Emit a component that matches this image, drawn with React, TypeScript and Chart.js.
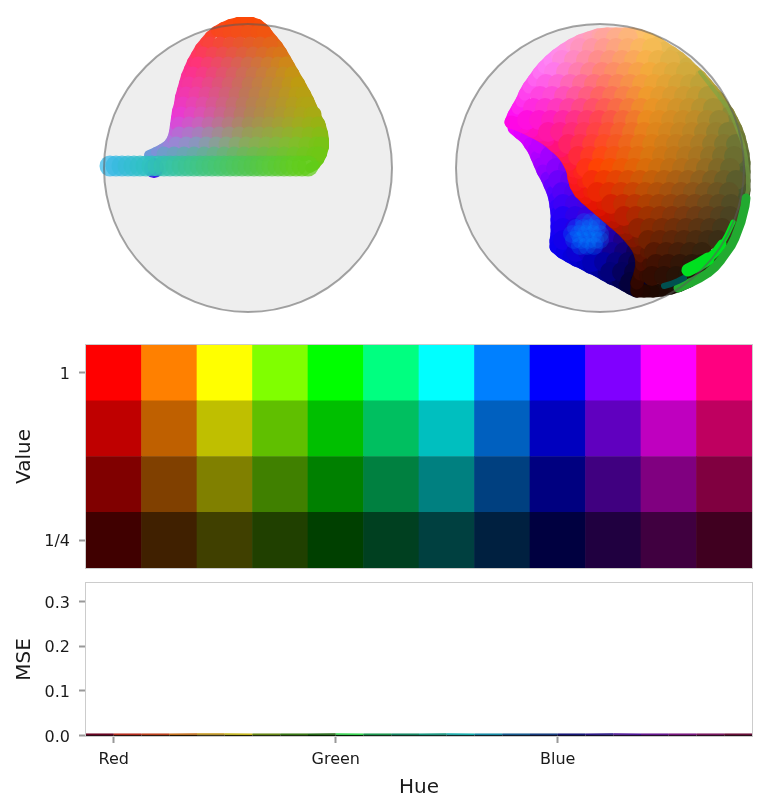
import { useEffect, useRef } from 'react';
import { Chart, registerables } from 'chart.js';

Chart.register(...registerables);

// --- sphere projections, offsets from the sphere centre (radius 144) ---
const sphereRadius = 144;

const leftRowY = [-136, -124, -114, -104, -94, -84, -74, -64, -54, -44, -34, -24, -14];
const leftRowX = [
  [-26, -18, -10, 0, 10, 16],
  [-38, -28, -18, -8, 2, 12, 22],
  [-45, -35, -25, -15, -5, 5, 15, 25, 32],
  [-50, -40, -30, -20, -10, 0, 10, 20, 30, 38],
  [-55, -45, -35, -25, -15, -5, 5, 15, 25, 35, 44],
  [-59, -49, -39, -29, -19, -9, 1, 11, 21, 31, 41, 50],
  [-62, -52, -42, -32, -22, -12, -2, 8, 18, 28, 38, 48, 55],
  [-65, -55, -45, -35, -25, -15, -5, 5, 15, 25, 35, 45, 55, 60],
  [-67, -57, -47, -37, -27, -17, -7, 3, 13, 23, 33, 43, 53, 63, 66],
  [-69, -59, -49, -39, -29, -19, -9, 1, 11, 21, 31, 41, 51, 61, 70],
  [-69, -59, -49, -39, -29, -19, -9, 1, 11, 21, 31, 41, 51, 61, 71],
  [-72, -62, -52, -42, -32, -22, -12, -2, 8, 18, 28, 38, 48, 58, 68, 73],
  [-84, -74, -64, -54, -44, -34, -24, -14, -4, 6, 16, 26, 36, 46, 56, 66, 71],
];
const leftEdgeX = [
  -99, -92, -86, -80, -76, -74, -73, -72, -71, -69, -68, -66, -64, -62, -59, -56, -52, -48, -43, -38, -32, -25, -18, -10,
  -3, 4, 10, 15, 20, 25, 30, 34, 38, 42, 46, 50, 54, 58, 61, 64, 67, 70, 73, 75, 76, 76, 74, 71, 67, 62,
];
const leftEdgeY = [
  -13, -16, -19, -23, -29, -36, -43, -50, -57, -64, -71, -78, -85, -92, -99, -106, -113, -120, -126, -132, -137, -141, -144, -146,
  -146, -146, -144, -140, -134, -128, -122, -116, -109, -102, -95, -88, -81, -74, -68, -61, -55, -48, -42, -35, -28, -21, -14, -8, -3, 0,
];
const leftBandRowY = [-2];
const leftBandRowX = [[
  -138, -132, -126, -120, -114, -108, -102, -96, -90, -84, -78, -72, -66, -60, -54, -48, -42, -36, -30, -24,
  -18, -12, -6, 0, 6, 12, 18, 24, 30, 36, 42, 48, 54, 60,
]];
const leftHiddenRowY = [0];
const leftHiddenRowX = [[-94]];

const mainRowY = [-130, -120, -108, -96, -84, -72, -60, -48, -36, -24, -12, 0, 12, 24, 36, 48, 60, 72, 84, 96, 108];
const mainRowX = [
  [4, 16, 28],
  [-20, -8, 4, 16, 28, 40, 52],
  [-38, -26, -14, -2, 10, 22, 34, 46, 58, 70],
  [-46, -34, -22, -10, 2, 14, 26, 38, 50, 62, 74, 86],
  [-54, -42, -30, -18, -6, 6, 18, 30, 42, 54, 66, 78, 90, 100],
  [-60, -48, -36, -24, -12, 0, 12, 24, 36, 48, 60, 72, 84, 96, 108],
  [-67, -55, -43, -31, -19, -7, 5, 17, 29, 41, 53, 65, 77, 89, 101, 113],
  [-73, -61, -49, -37, -25, -13, -1, 11, 23, 35, 47, 59, 71, 83, 95, 107, 119],
  [-52, -40, -28, -16, -4, 8, 20, 32, 44, 56, 68, 80, 92, 104, 116, 128],
  [-32, -20, -8, 4, 16, 28, 40, 52, 64, 76, 88, 100, 112, 124, 136],
  [-22, -10, 2, 14, 26, 38, 50, 62, 74, 86, 98, 110, 122, 134],
  [-14, -2, 10, 22, 34, 46, 58, 70, 82, 94, 106, 118, 130],
  [-8, 4, 16, 28, 40, 52, 64, 76, 88, 100, 112, 124, 136],
  [-3, 9, 21, 33, 45, 57, 69, 81, 93, 105, 117, 129],
  [11, 23, 35, 47, 59, 71, 83, 95, 107, 119, 131],
  [24, 36, 48, 60, 72, 84, 96, 108, 120, 130],
  [38, 50, 62, 74, 86, 98, 110, 122],
  [48, 60, 72, 84, 96, 108, 118],
  [54, 66, 78, 90, 102],
  [56, 68, 80, 92, 102],
  [52, 64, 76, 88],
];
const mainFillX = [-11, 2, 15, 28, 40, 46, 48, 45, -17, -21];
const mainFillY = [24, 36, 48, 60, 72, 84, 96, 108, 14, 5];
const mainEdgeX = [
  -89, -86, -82, -78, -75, -71, -66, -61, -56, -50, -43, -36, -28, -20, -11, -2, 7, 16, 25, 33,
  41, 49, 57, 64, 72, 79, 86, 93, 100, 106, 112, 118, 123, 128, 132, 136, 139, 141, 143, 144, 144, 144, 144, 143, 141, 138, 135, 130, 126, 121, 116, 110, 104, 97, 89, 80, 71, 62, 53, 44, 37,
  37, 40, 42, 41, 38, 33, 27, 21, 14, 7, 0, -7, -14, -20, -24, -26, -27, -30, -34, -39, -45, -52, -60, -68, -76, -83, -89,
];
const mainEdgeY = [
  -46, -53, -60, -67, -74, -81, -88, -95, -101, -107, -113, -118, -123, -127, -130, -133, -134, -134, -134, -134,
  -132, -129, -125, -120, -115, -110, -104, -97, -91, -84, -77, -70, -62, -55, -47, -39, -31, -23, -14, -5, 4, 13, 22, 31, 40, 48, 57, 65, 73, 81, 89, 96, 102, 108, 113, 117, 120, 122, 123, 123, 123,
  115, 106, 97, 88, 80, 73, 66, 60, 54, 48, 42, 36, 30, 24, 17, 10, 3, -4, -11, -17, -22, -28, -33, -37, -41, -44, -46,
];

const backRowY = [-24, -12, 0, 12, 24, 36, 48, 60, 72, 84, 94, 104, 114];
const backRowX = [
  [-59, -47, -35],
  [-50, -38, -26],
  [-44, -32, -20],
  [-42, -30, -18, -6],
  [-38, -26, -14, -2],
  [-37, -25, -13, -1, 8, 17],
  [-37, -25, -13, -1, 11, 18, 28],
  [-37, -25, -13, -1, 11, 23, 30, 40],
  [-37, -25, -13, -1, 11, 23, 33, 43],
  [-24, -12, 0, 12, 24, 36, 46],
  [-8, 4, 16, 28, 38],
  [10, 22, 34],
  [30, 40],
];
const backEdgeX = [
  -86, -80, -74, -70, -66, -63, -60, -57, -53, -50, -47, -45, -44, -43, -43, -43, -43, -44, -44,
  -38, -31, -24, -17, -10, -3, 4, 11, 18, 25, 30, 36,
];
const backEdgeY = [
  -40, -35, -30, -24, -18, -11, -4, 3, 10, 17, 24, 31, 38, 45, 52, 59, 66, 73, 79,
  84, 88, 92, 95, 99, 102, 106, 110, 113, 117, 120, 123,
];

const patchRowY = [54, 60, 66, 72, 78];
const patchRowX = [
  [-16, -9, -2],
  [-24, -17, -10, -3],
  [-28, -21, -14, -7, 0],
  [-26, -19, -12, -5, 0],
  [-20, -13, -6],
];

const brightWideX = [88, 98, 108];
const brightWideY = [102, 97, 91];
const brightMidX = [108, 116, 122];
const brightMidY = [91, 84, 76];
const brightThinX = [122, 127, 133];
const brightThinY = [76, 67, 54];
const deepRimX = [146, 145, 143, 141, 138, 135, 131, 126, 121, 115, 108, 100, 92, 85, 78];
const deepRimY = [30, 38, 46, 54, 62, 70, 78, 85, 92, 99, 105, 110, 114, 117, 120];
const paleRimX = [100, 107, 114, 121, 128, 133, 137, 141, 144, 146, 147, 148, 148, 148, 147];
const paleRimY = [-96, -87, -78, -69, -60, -50, -40, -30, -20, -10, -2, 6, 14, 22, 26];
const tealX = [64, 71, 78, 84];
const tealY = [118, 116, 113, 110];

// --- hue / value grid ---
const hueNames = ['Red', 'Orange', 'Yellow', 'Lime', 'Green', 'Spring', 'Cyan', 'Azure', 'Blue', 'Violet', 'Magenta', 'Rose'];
const valueLevels = [1, 0.75, 0.5, 0.25];
const cellHeights = [1, 1, 1, 1, 1, 1, 1, 1, 1, 1, 1, 1];
const valueTickAt = [0.5, 3.5];
const valueTickLabels = ['1/4', '1'];

// --- reconstruction error ---
const mseHue = [-15, 0, 15, 30, 45, 60, 75, 90, 105, 120, 135, 150, 165, 180, 195, 210, 225, 240, 255, 270, 285, 300, 315, 330, 345];
const mseUpper = [0.003, 0.003, 0.003, 0.003, 0.0035, 0.0035, 0.003, 0.003, 0.003, 0.0035, 0.003, 0.003, 0.003, 0.0035, 0.003, 0.003, 0.003, 0.003, 0.003, 0.0035, 0.003, 0.003, 0.003, 0.003, 0.003];
const mseLower = [0.0008, 0.0008, 0.0008, 0.0008, 0.0009, 0.0009, 0.0008, 0.0008, 0.0008, 0.0009, 0.0008, 0.0008, 0.0008, 0.0008, 0.0008, 0.0008, 0.0008, 0.0008, 0.0008, 0.0008, 0.0008, 0.0008, 0.0008, 0.0008, 0.0008];
const hueTickAt = [0, 120, 240];
const hueTickLabels = ['Red', 'Green', 'Blue'];
const mseTickAt = [0, 0.1, 0.2, 0.3];

// colours
type RGB = number[];
const hueColors: RGB[] = [
  [255, 0, 0], [255, 128, 0], [255, 255, 0], [128, 255, 0], [0, 255, 0], [0, 255, 128],
  [0, 255, 255], [0, 128, 255], [0, 0, 255], [128, 0, 255], [255, 0, 255], [255, 0, 128],
];
const mseUpperColors = [
  '#6a0020', '#b82a1c', '#c0401c', '#c8701c', '#c89a1c', '#c8b81c', '#6a8a14', '#3a7a14', '#246a14', '#36d850',
  '#1c9a50', '#148a64', '#149a82', '#14b0b0', '#148ca8', '#145a90', '#143c80', '#141478', '#2a1488', '#50149a',
  '#681490', '#7a1480', '#7a1460', '#6a0c38',
];
const mseLowerColors = [
  '#20000c', '#200800', '#200c00', '#201400', '#201a00', '#201e00', '#141e00', '#0c1e00', '#041e00', '#001e04',
  '#001e0c', '#001e14', '#001e18', '#001c1c', '#00141c', '#000c1c', '#00041c', '#00001c', '#04001c', '#0c001c',
  '#14001c', '#1c001c', '#1c0014', '#1c000c',
];

const leftShadeRows = [-150, -100, -50, -25, 0];
const leftShadeCols = [-150, -100, -50, 0, 50, 100];
const leftShade: RGB[][] = [
  [[255, 70, 0], [255, 70, 0], [255, 70, 0], [255, 70, 0], [255, 70, 0], [255, 70, 0]],
  [[255, 30, 170], [255, 30, 170], [255, 50, 130], [205, 110, 80], [200, 150, 10], [200, 150, 10]],
  [[255, 20, 255], [255, 20, 255], [220, 80, 190], [175, 130, 90], [170, 165, 30], [150, 185, 0]],
  [[200, 90, 240], [180, 110, 245], [140, 150, 190], [140, 170, 90], [130, 190, 40], [110, 200, 0]],
  [[50, 190, 245], [35, 200, 190], [55, 200, 130], [75, 200, 80], [95, 205, 30], [100, 205, 0]],
];

const mainShadeRows = [-144, -96, -48, 0, 48, 96, 144];
const mainShadeCols = [-96, -48, 0, 48, 96, 144];
const mainShade: RGB[][] = [
  [[255, 170, 255], [255, 170, 255], [255, 175, 180], [255, 205, 110], [190, 190, 90], [150, 180, 80]],
  [[255, 100, 255], [255, 120, 240], [255, 130, 120], [245, 170, 60], [200, 170, 60], [130, 170, 70]],
  [[255, 0, 255], [255, 30, 190], [255, 70, 80], [235, 140, 30], [190, 140, 40], [110, 130, 60]],
  [[255, 0, 150], [255, 0, 80], [255, 70, 0], [215, 110, 10], [165, 110, 30], [85, 100, 50]],
  [[255, 0, 0], [255, 0, 0], [215, 10, 0], [160, 50, 0], [110, 60, 20], [60, 70, 40]],
  [[120, 0, 0], [120, 0, 0], [120, 0, 0], [70, 15, 0], [40, 25, 10], [20, 30, 20]],
  [[0, 0, 0], [0, 0, 0], [0, 0, 0], [0, 0, 0], [0, 20, 15], [0, 20, 15]],
];

const backShadeRows = [-48, 0, 48, 96, 144];
const backShadeCols = [-96, -48, 0, 48];
const backShade: RGB[][] = [
  [[255, 0, 255], [220, 0, 255], [220, 0, 255], [220, 0, 255]],
  [[200, 0, 255], [140, 0, 255], [90, 0, 230], [90, 0, 230]],
  [[40, 0, 255], [30, 0, 255], [65, 0, 210], [40, 0, 120]],
  [[0, 0, 255], [0, 0, 240], [0, 0, 170], [10, 0, 40]],
  [[0, 0, 100], [0, 0, 60], [0, 0, 30], [0, 0, 0]],
];

type Pt = { x: number; y: number };

const toPoints = (rowY: number[], rowX: number[][]) =>
  rowY.flatMap((y, i) => rowX[i].map(x => ({ x, y })));
const zipPoints = (xs: number[], ys: number[]) => xs.map((x, i) => ({ x, y: ys[i] }));

function bracket(stops: number[], v: number): [number, number, number] {
  let i = 0;
  while (i < stops.length - 2 && v > stops[i + 1]) i++;
  const t = Math.min(1, Math.max(0, (v - stops[i]) / (stops[i + 1] - stops[i])));
  return [i, i + 1, t];
}

// colour of a dot, looked up from a coarse table of colours
function shadeAt(table: RGB[][], rows: number[], cols: number[], x: number, y: number, alpha: number) {
  const [r0, r1, v] = bracket(rows, y);
  const [c0, c1, u] = bracket(cols, x);
  const rgb = [0, 1, 2].map(k => {
    const top = table[r0][c0][k] * (1 - u) + table[r0][c1][k] * u;
    const bot = table[r1][c0][k] * (1 - u) + table[r1][c1][k] * u;
    return Math.round(top * (1 - v) + bot * v);
  });
  return `rgba(${rgb[0]}, ${rgb[1]}, ${rgb[2]}, ${alpha})`;
}

function dots(points: Pt[], color: any, radius: number) {
  return { data: points, backgroundColor: color, pointRadius: radius, pointBorderWidth: 0 };
}

// thick round-capped path along a sheet's border, for a smooth silhouette
function edge(points: Pt[], colorOf: (p: Pt) => string, width: number) {
  return {
    data: points,
    showLine: true,
    pointRadius: 0,
    borderWidth: width,
    borderColor: colorOf(points[0]),
    borderCapStyle: 'round',
    borderJoinStyle: 'round',
    segment: { borderColor: (c: any) => colorOf(points[c.p0DataIndex]) },
  };
}

const ringDataset = () => ({
  data: [{ x: 0, y: 0 }],
  backgroundColor: 'rgba(0, 0, 0, 0)',
  borderColor: 'rgba(90, 90, 90, 0.55)',
  pointRadius: sphereRadius,
  pointBorderWidth: 2,
});
const discDataset = () => dots([{ x: 0, y: 0 }], '#eeeeee', sphereRadius);

function leftDatasets() {
  const shade = (p: Pt, a: number) => shadeAt(leftShade, leftShadeRows, leftShadeCols, p.x, p.y, a);
  const upper = toPoints(leftRowY, leftRowX);
  const band = toPoints(leftBandRowY, leftBandRowX);
  return [
    ringDataset(),
    dots(band, band.map(p => shade(p, 0.75)), 10.5),
    dots(upper, upper.map(p => shade(p, 1)), 7.5),
    edge(zipPoints(leftEdgeX, leftEdgeY), p => shade(p, 1), 10),
    dots(toPoints(leftHiddenRowY, leftHiddenRowX), '#3c00f0', 10),
    discDataset(),
  ];
}

function rightDatasets() {
  const mainOf = (p: Pt) => shadeAt(mainShade, mainShadeRows, mainShadeCols, p.x, p.y, 1);
  const backOf = (p: Pt) => shadeAt(backShade, backShadeRows, backShadeCols, p.x, p.y, 1);
  const main = toPoints(mainRowY, mainRowX);
  const fill = zipPoints(mainFillX, mainFillY);
  const back = toPoints(backRowY, backRowX);
  return [
    ringDataset(),
    edge(zipPoints(brightThinX, brightThinY), () => '#00e020', 5),
    edge(zipPoints(brightMidX, brightMidY), () => '#00e020', 9),
    edge(zipPoints(brightWideX, brightWideY), () => '#00e020', 13),
    edge(zipPoints(tealX, tealY), () => '#005050', 6),
    edge(zipPoints(deepRimX, deepRimY), () => '#22aa30', 9),
    edge(zipPoints(paleRimX, paleRimY), () => 'rgba(120, 170, 70, 0.55)', 4),
    dots(main, main.map(mainOf), 10),
    dots(fill, fill.map(mainOf), 6),
    edge(zipPoints(mainEdgeX, mainEdgeY), mainOf, 13),
    dots(toPoints(patchRowY, patchRowX), 'rgba(0, 130, 255, 0.22)', 9),
    dots(back, back.map(backOf), 10),
    edge(zipPoints(backEdgeX, backEdgeY), backOf, 13),
    discDataset(),
  ];
}

const framePlugin = {
  id: 'frame',
  afterDraw(chart: any) {
    const { ctx, chartArea: a } = chart;
    ctx.save();
    ctx.strokeStyle = '#cccccc';
    ctx.lineWidth = 1;
    ctx.strokeRect(a.left - 0.5, a.top - 0.5, a.right - a.left + 1, a.bottom - a.top + 1);
    ctx.restore();
  },
};

const textColor = '#1a1a1a';
const fontFamily = "'DejaVu Sans'";
const tickFont = { family: fontFamily, size: 16 };
const titleFont = { family: fontFamily, size: 20 };
const tickGrid = { drawOnChartArea: false, drawTicks: true, tickLength: 7, tickWidth: 2, tickColor: '#999999' };

// the gutter left of every plot is fixed so both panels line up
const fitGutter = (s: any) => {
  s.width = 86;
  s.paddingTop = 0;
  s.paddingBottom = 0;
};

function SphereCanvas({ left, datasets }: { left: number; datasets: () => any[] }) {
  const ref = useRef<HTMLCanvasElement>(null);
  useEffect(() => {
    if (!ref.current) return;
    const chart = new Chart(ref.current, {
      type: 'scatter',
      data: { datasets: datasets() },
      options: {
        responsive: false,
        animation: false,
        layout: { padding: 0, autoPadding: false },
        plugins: { legend: { display: false }, tooltip: { enabled: false } },
        scales: {
          x: { type: 'linear', display: false, min: -160, max: 160 },
          y: { type: 'linear', display: false, min: -160, max: 160, reverse: true },
        },
      },
    } as any);
    return () => chart.destroy();
  }, []);
  return <canvas ref={ref} width={320} height={320} style={{ position: 'absolute', left, top: 8 }} />;
}

function HeatCanvas() {
  const ref = useRef<HTMLCanvasElement>(null);
  useEffect(() => {
    if (!ref.current) return;
    // bottom band first so that the stack reads from value 1/4 up to value 1
    const datasets = [...valueLevels].reverse().map(level => ({
      label: String(level),
      data: cellHeights,
      backgroundColor: hueColors.map(c => `rgb(${c.map(v => Math.round(v * level)).join(', ')})`),
      borderWidth: 0,
      barPercentage: 1,
      categoryPercentage: 1,
    }));
    const chart = new Chart(ref.current, {
      type: 'bar',
      data: { labels: hueNames, datasets },
      options: {
        responsive: false,
        animation: false,
        layout: { padding: { top: 10, right: 15, bottom: 10, left: 0 }, autoPadding: false },
        plugins: { legend: { display: false }, tooltip: { enabled: false } },
        scales: {
          x: { stacked: true, display: false },
          y: {
            stacked: true,
            min: 0,
            max: 4,
            afterFit: fitGutter,
            afterBuildTicks: (s: any) => { s.ticks = valueTickAt.map(value => ({ value })); },
            ticks: {
              color: textColor,
              font: tickFont,
              padding: 9,
              labelOffset: 2,
              callback: (v: any) => valueTickLabels[valueTickAt.indexOf(v)],
            },
            grid: tickGrid,
            border: { display: false },
            title: { display: true, text: 'Value', color: textColor, font: titleFont, padding: { top: 13, bottom: 0 } },
          },
        },
      },
      plugins: [framePlugin],
    } as any);
    return () => chart.destroy();
  }, []);
  return <canvas ref={ref} width={767} height={243} style={{ position: 'absolute', left: 0, top: 335 }} />;
}

function MseCanvas() {
  const ref = useRef<HTMLCanvasElement>(null);
  useEffect(() => {
    if (!ref.current) return;
    const line = (values: number[], colors: string[]) => ({
      data: mseHue.map((x, i) => ({ x, y: values[i] })),
      borderWidth: 1.5,
      pointRadius: 0,
      borderColor: colors[0],
      segment: { borderColor: (c: any) => colors[c.p0DataIndex] },
    });
    const chart = new Chart(ref.current, {
      type: 'line',
      data: { datasets: [line(mseUpper, mseUpperColors), line(mseLower, mseLowerColors)] },
      options: {
        responsive: false,
        animation: false,
        layout: { padding: { top: 8, right: 15, bottom: 0, left: 0 }, autoPadding: false },
        plugins: { legend: { display: false }, tooltip: { enabled: false } },
        scales: {
          x: {
            type: 'linear',
            min: -15,
            max: 345,
            afterFit: (s: any) => { s.height = 75; },
            afterBuildTicks: (s: any) => { s.ticks = hueTickAt.map(value => ({ value })); },
            ticks: {
              color: textColor,
              font: tickFont,
              padding: 7,
              maxRotation: 0,
              autoSkip: false,
              callback: (v: any) => hueTickLabels[hueTickAt.indexOf(v)],
            },
            grid: tickGrid,
            border: { display: false },
            title: { display: true, text: 'Hue', color: textColor, font: titleFont, padding: { top: 0, bottom: 11 } },
          },
          y: {
            type: 'linear',
            min: -0.001,
            max: 0.3416,
            afterFit: fitGutter,
            afterBuildTicks: (s: any) => { s.ticks = mseTickAt.map(value => ({ value })); },
            ticks: {
              color: textColor,
              font: tickFont,
              padding: 9,
              labelOffset: 2,
              callback: (v: any) => Number(v).toFixed(1),
            },
            grid: tickGrid,
            border: { display: false },
            title: { display: true, text: 'MSE', color: textColor, font: titleFont, padding: { top: 13, bottom: 0 } },
          },
        },
      },
      plugins: [framePlugin],
    } as any);
    return () => chart.destroy();
  }, []);
  return <canvas ref={ref} width={767} height={236} style={{ position: 'absolute', left: 0, top: 575 }} />;
}

export default function App() {
  return (
    <div style={{ position: 'absolute', left: 0, top: 0, width: 767, height: 811, background: '#ffffff', overflow: 'hidden' }}>
      <SphereCanvas left={88} datasets={leftDatasets} />
      <SphereCanvas left={440} datasets={rightDatasets} />
      <HeatCanvas />
      <MseCanvas />
    </div>
  );
}
